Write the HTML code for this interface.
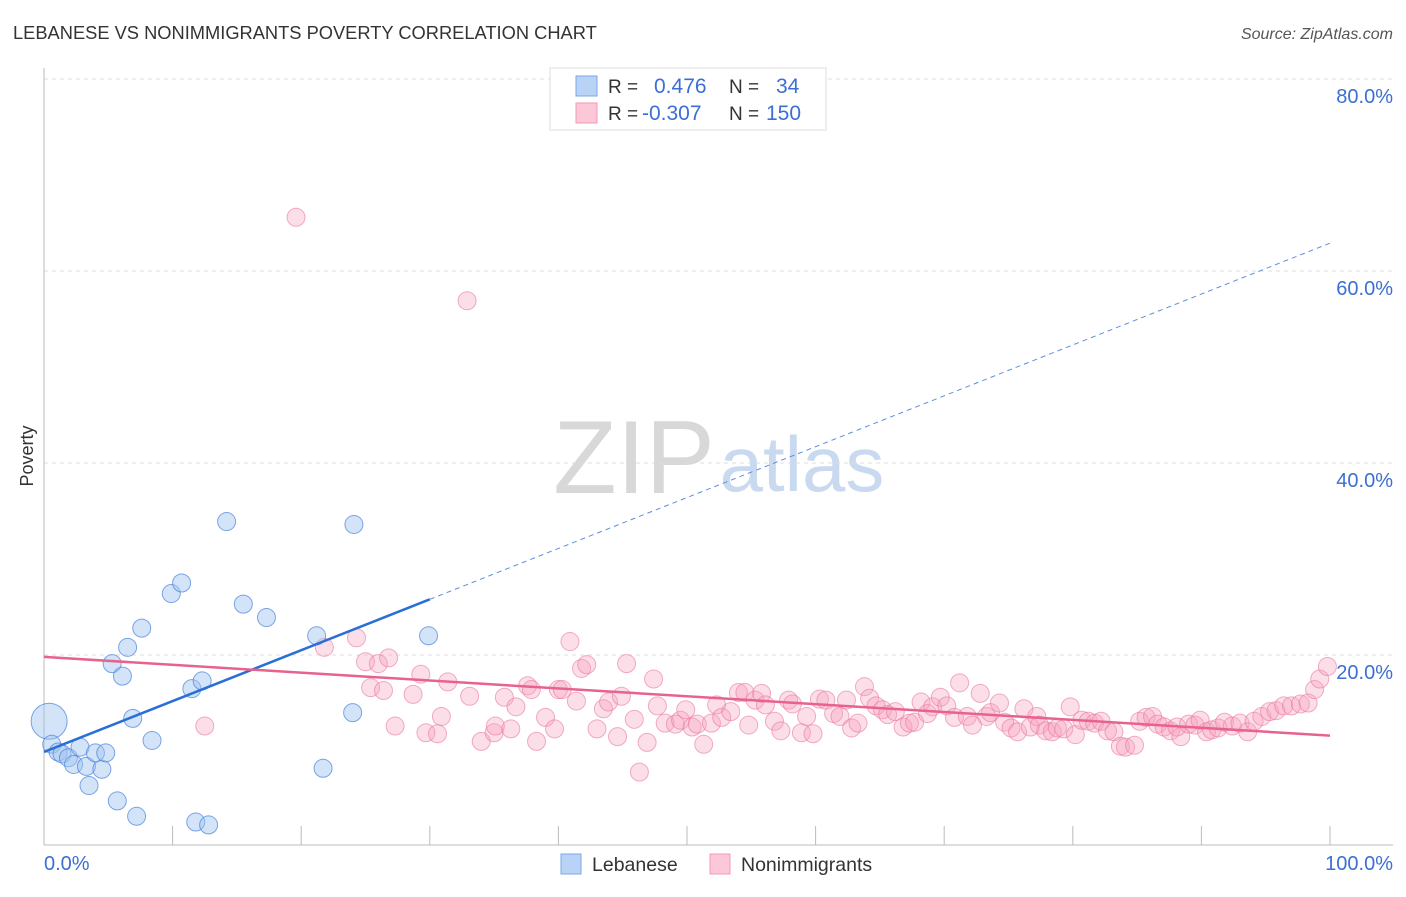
<!DOCTYPE html>
<html><head><meta charset="utf-8"><style>
body{margin:0;background:#fff;font-family:"Liberation Sans",sans-serif}
svg text{font-family:"Liberation Sans",sans-serif}
</style></head><body>
<svg id="chart" width="1406" height="892" viewBox="0 0 1406 892" xmlns="http://www.w3.org/2000/svg">
<text x="13" y="39" font-size="18.3" fill="#333">LEBANESE VS NONIMMIGRANTS POVERTY CORRELATION CHART</text>
<text x="1393" y="39" font-size="16" font-style="italic" fill="#555" text-anchor="end">Source: ZipAtlas.com</text>
<g>
<text x="634" y="493" font-size="104" font-family="Liberation Serif" fill="#d8d8d8" text-anchor="middle">ZIP</text>
<text x="802" y="491" font-size="78" fill="#c9daf0" text-anchor="middle">atlas</text>
</g>
<g id="grid"></g>
<g id="axes"></g>
<text transform="translate(33,456) rotate(-90)" font-size="18" fill="#333" text-anchor="middle">Poverty</text>
<text x="44" y="870" font-size="20" fill="#3b6fd4">0.0%</text>
<text x="1393" y="870" font-size="20" fill="#3b6fd4" text-anchor="end">100.0%</text>
<g id="trends"></g>
<g id="pts"></g>
<g>
<rect x="550" y="68" width="276" height="62" fill="#fff" stroke="#ddd"/>
<rect x="576" y="76" width="21" height="20" fill="#b8d3f5" stroke="#7aa7e6"/>
<rect x="576" y="103" width="21" height="20" fill="#fcc8d8" stroke="#f09ab6"/>
<text x="608" y="93" font-size="19" fill="#333">R =</text>
<text x="654" y="93" font-size="21" fill="#3b6fd4">0.476</text>
<text x="729" y="93" font-size="19" fill="#333">N =</text>
<text x="776" y="93" font-size="21" fill="#3b6fd4">34</text>
<text x="608" y="120" font-size="19" fill="#333">R =</text>
<text x="642" y="120" font-size="21" fill="#3b6fd4">-0.307</text>
<text x="729" y="120" font-size="19" fill="#333">N =</text>
<text x="766" y="120" font-size="21" fill="#3b6fd4">150</text>
</g>
<g>
<rect x="561" y="854" width="20" height="20" fill="#b8d3f5" stroke="#7aa7e6"/>
<text x="592" y="871" font-size="19.5" fill="#333">Lebanese</text>
<rect x="710" y="854" width="20" height="20" fill="#fcc8d8" stroke="#f09ab6"/>
<text x="741" y="871" font-size="19.5" fill="#333">Nonimmigrants</text>
</g>
</svg>
<script>
const yTicks=[20,40,60,80];
const yTickLabels=["20.0%","40.0%","60.0%","80.0%"];
const xTicks=[0,10,20,30,40,50,60,70,80,90,100];
const lebX=[0.4,0.6,1.1,1.4,1.9,2.3,2.8,3.3,4.0,4.5,4.8,3.5,5.7,7.2,5.3,6.1,6.5,7.6,6.9,8.4,9.9,10.7,11.5,12.3,14.2,15.5,17.3,21.2,24.0,24.1,21.7,11.8,12.8,29.9];
const lebY=[13.1,10.7,9.9,9.7,9.3,8.6,10.4,8.4,9.8,8.1,9.8,6.4,4.8,3.2,19.1,17.8,20.8,22.8,13.4,11.1,26.4,27.5,16.5,17.3,33.9,25.3,23.9,22.0,14.0,33.6,8.2,2.6,2.3,22.0];
const lebR=[18,9,9,9,9,9,9,9,9,9,9,9,9,9,9,9,9,9,9,9,9,9,9,9,9,9,9,9,9,9,9,9,9,9];
const nonX=[19.6,32.9,12.5,46.3,21.8,24.3,25.0,26.0,26.8,25.4,26.4,27.3,28.7,29.3,29.7,30.6,30.9,31.4,33.1,34.0,35.0,35.1,35.8,36.3,36.7,37.6,37.9,38.3,39.0,39.7,40.0,40.3,40.9,41.4,41.8,42.2,43.0,43.5,43.9,44.6,44.9,45.3,45.9,46.9,47.4,47.7,48.3,49.1,49.5,49.9,50.4,50.8,51.3,51.9,52.3,52.7,53.4,54.0,54.5,54.8,55.3,55.8,56.1,56.8,57.3,57.9,58.2,58.9,59.3,59.8,60.3,60.8,61.4,61.9,62.4,62.8,63.3,63.8,64.2,64.7,65.2,65.6,66.2,66.8,67.3,67.7,68.2,68.7,69.1,69.7,70.2,70.8,71.2,71.8,72.2,72.8,73.3,73.6,74.3,74.7,75.2,75.7,76.2,76.7,77.2,77.4,77.9,78.4,78.8,79.3,79.8,80.2,80.7,81.2,81.7,82.2,82.7,83.2,83.7,84.1,84.8,85.2,85.7,86.2,86.6,87.1,87.6,88.1,88.4,89.0,89.5,89.9,90.4,90.8,91.3,91.8,92.4,93.0,93.6,94.1,94.7,95.3,95.8,96.4,97.0,97.7,98.3,98.8,99.2,99.8];
const nonY=[65.6,56.9,12.6,7.8,20.8,21.8,19.3,19.1,19.7,16.6,16.3,12.6,15.9,18.0,11.9,11.8,13.6,17.2,15.7,11.0,11.9,12.6,15.6,12.3,14.6,16.8,16.4,11.0,13.5,12.3,16.4,16.4,21.4,15.2,18.6,19.0,12.3,14.4,15.1,11.5,15.7,19.1,13.3,10.9,17.5,14.7,12.9,12.8,13.2,14.3,12.5,12.8,10.7,12.9,14.8,13.5,14.1,16.1,16.1,12.7,15.3,16.0,14.8,13.1,12.1,15.3,14.9,11.9,13.6,11.8,15.4,15.3,13.9,13.6,15.3,12.4,12.9,16.7,15.5,14.7,14.3,13.8,14.1,12.5,12.9,13.0,15.1,13.9,14.6,15.6,14.7,13.5,17.1,13.6,12.7,16.0,13.6,14.0,15.0,13.0,12.4,12.0,14.4,12.5,13.6,12.7,12.1,12.0,12.4,12.3,14.6,11.7,13.2,13.1,12.9,13.1,12.1,12.0,10.5,10.4,10.6,13.1,13.5,13.6,12.8,12.5,12.1,12.5,11.5,12.8,12.7,13.2,12.0,12.2,12.4,13.0,12.6,12.9,12.0,13.1,13.6,14.1,14.2,14.7,14.7,14.9,15.0,16.4,17.5,18.8];
const lebTrend=[9.9,62.9];
const lebSolidEnd=30;
const nonTrend=[19.8,11.6];

const NS="http://www.w3.org/2000/svg";
const X=v=>44+v*12.86;
const Y=v=>847-v*9.6;
function mk(tag,attrs,parent){const e=document.createElementNS(NS,tag);for(const k in attrs)e.setAttribute(k,attrs[k]);parent.appendChild(e);return e;}
const grid=document.getElementById('grid'),axes=document.getElementById('axes');
yTicks.forEach((t,i)=>{
  const l=mk('line',{x1:44,x2:1393,y1:Y(t),y2:Y(t),stroke:'#ddd','stroke-dasharray':'4,4'},grid);
  
  
  const tx=mk('text',{x:1393,y:Y(t)+24,'font-size':20,fill:'#3b6fd4','text-anchor':'end'},grid);
  tx.textContent=yTickLabels[i];
  
  
});
mk('line',{x1:44,x2:44,y1:68,y2:845,stroke:'#bbb'},axes);
mk('line',{x1:44,x2:1393,y1:845,y2:845,stroke:'#bbb'},axes);
xTicks.forEach(t=>{
  const l=mk('line',{x1:X(t),x2:X(t),y1:826,y2:845,stroke:'#bbb'},axes);
  
  
});
const pts=document.getElementById('pts');
nonX.forEach((v,i)=>{
  const c=mk('circle',{cx:X(v),cy:Y(nonY[i]),r:9,fill:'rgba(247,160,190,0.35)',stroke:'rgba(233,120,160,0.6)','stroke-width':1},pts);
  
  
});
lebX.forEach((v,i)=>{
  const c=mk('circle',{cx:X(v),cy:Y(lebY[i]),r:lebR[i],fill:'rgba(160,195,240,0.45)',stroke:'rgba(70,130,220,0.7)','stroke-width':1},pts);
  
  
});
const ly=x=>lebTrend[0]+(lebTrend[1]-lebTrend[0])*x/100;
let t1=mk('line',{x1:X(0),y1:Y(ly(0)),x2:X(lebSolidEnd),y2:Y(ly(lebSolidEnd)),stroke:'#2a6fd6','stroke-width':2.5},pts);


let t2=mk('line',{x1:X(lebSolidEnd),y1:Y(ly(lebSolidEnd)),x2:X(100),y2:Y(ly(100)),stroke:'#5a8fe0','stroke-width':1,'stroke-dasharray':'5,4'},pts);


let t3=mk('line',{x1:X(0),y1:Y(nonTrend[0]),x2:X(100),y2:Y(nonTrend[1]),stroke:'#e8628e','stroke-width':2.5},pts);


</script>
</body></html>
